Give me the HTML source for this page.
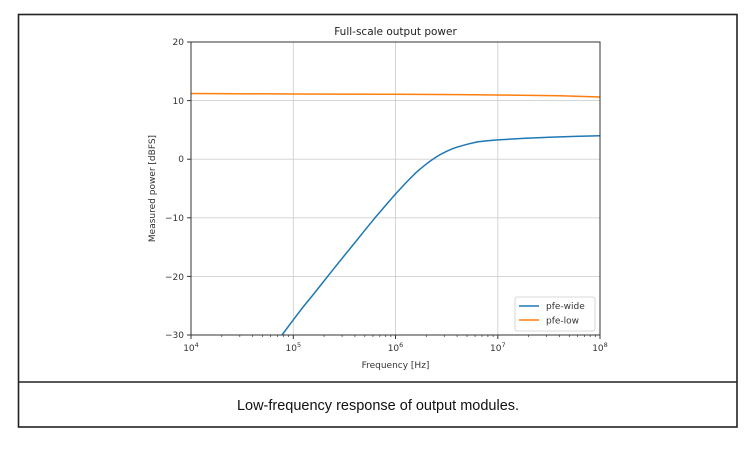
<!DOCTYPE html>
<html><head><meta charset="utf-8"><style>
html,body{margin:0;padding:0;background:#fff;}
</style></head><body>
<svg width="756" height="451" xmlns="http://www.w3.org/2000/svg" font-family="DejaVu Sans, Liberation Sans, sans-serif">
<rect x="0" y="0" width="756" height="451" fill="#fff"/>
<rect x="18.5" y="14.5" width="718.5" height="412.5" fill="none" stroke="#222" stroke-width="1.6"/>
<line x1="18" y1="382" x2="737" y2="382" stroke="#222" stroke-width="1.6"/>
<text x="378" y="410" text-anchor="middle" font-family="Liberation Sans, sans-serif" font-size="14.5" fill="#111">Low-frequency response of output modules.</text>
<!-- grid -->
<g stroke="#d0d0d0" stroke-width="0.9">
<line x1="293.3" y1="42" x2="293.3" y2="335"/>
<line x1="395.5" y1="42" x2="395.5" y2="335"/>
<line x1="497.8" y1="42" x2="497.8" y2="335"/>
<line x1="191" y1="100.6" x2="600" y2="100.6"/>
<line x1="191" y1="159.2" x2="600" y2="159.2"/>
<line x1="191" y1="217.8" x2="600" y2="217.8"/>
<line x1="191" y1="276.4" x2="600" y2="276.4"/>
</g>
<!-- series -->
<polyline fill="none" stroke="#ff7f0e" stroke-width="1.5" stroke-linejoin="round" points="191,93.5 293,94 395,94.3 460,94.6 520,95.2 560,95.8 600,97"/>
<polyline fill="none" stroke="#1f77b4" stroke-width="1.5" stroke-linejoin="round" points="282,335 293.3,319.8 303.5,306.5 313.7,294 324,281 334.2,268.2 344.4,255.5 354.6,243 364.8,230.3 375,217.8 385.3,205.8 395.5,194 405.7,183 415.9,172.7 421,168.3 426.1,164.2 431.2,160.4 436.4,156.9 441.5,153.9 446.6,151.3 451.7,149.1 456.8,147.2 467,144.3 477.3,141.9 487.5,140.8 497.8,139.9 523,138.4 549,137.2 575,136.4 600,135.8"/>
<!-- axes -->
<rect x="191" y="42" width="409" height="293" fill="none" stroke="#333" stroke-width="1"/>
<g stroke="#333" stroke-width="1">
<line x1="191" y1="335" x2="191" y2="339"/><line x1="293.3" y1="335" x2="293.3" y2="339"/><line x1="395.5" y1="335" x2="395.5" y2="339"/><line x1="497.8" y1="335" x2="497.8" y2="339"/><line x1="600" y1="335" x2="600" y2="339"/>
<line x1="187" y1="42" x2="191" y2="42"/><line x1="187" y1="100.6" x2="191" y2="100.6"/><line x1="187" y1="159.2" x2="191" y2="159.2"/><line x1="187" y1="217.8" x2="191" y2="217.8"/><line x1="187" y1="276.4" x2="191" y2="276.4"/><line x1="187" y1="335" x2="191" y2="335"/>
</g>
<g stroke="#333" stroke-width="0.7">
<path d="M221.8 335v2M239.8 335v2M252.6 335v2M262.5 335v2M270.6 335v2M277.5 335v2M283.4 335v2M288.6 335v2
M324.1 335v2M342.1 335v2M354.9 335v2M364.8 335v2M372.9 335v2M379.8 335v2M385.7 335v2M390.9 335v2
M426.3 335v2M444.3 335v2M457.1 335v2M467 335v2M475.1 335v2M482 335v2M487.9 335v2M493.1 335v2
M528.6 335v2M546.6 335v2M559.4 335v2M569.3 335v2M577.4 335v2M584.3 335v2M590.2 335v2M595.4 335v2"/>
</g>
<g font-size="9" fill="#333">
<text x="184" y="45" text-anchor="end">20</text>
<text x="184" y="104" text-anchor="end">10</text>
<text x="184" y="162" text-anchor="end">0</text>
<text x="184" y="221" text-anchor="end">−10</text>
<text x="184" y="280" text-anchor="end">−20</text>
<text x="184" y="338" text-anchor="end">−30</text>
<text x="191" y="351" text-anchor="middle">10<tspan font-size="6.5" dy="-4">4</tspan></text>
<text x="293.3" y="351" text-anchor="middle">10<tspan font-size="6.5" dy="-4">5</tspan></text>
<text x="395.5" y="351" text-anchor="middle">10<tspan font-size="6.5" dy="-4">6</tspan></text>
<text x="497.8" y="351" text-anchor="middle">10<tspan font-size="6.5" dy="-4">7</tspan></text>
<text x="600" y="351" text-anchor="middle">10<tspan font-size="6.5" dy="-4">8</tspan></text>
<text x="395.5" y="368" text-anchor="middle">Frequency [Hz]</text>
<text transform="translate(155,188.5) rotate(-90)" text-anchor="middle">Measured power [dBFS]</text>
</g>
<text x="395.5" y="35" text-anchor="middle" font-size="10.5" fill="#222">Full-scale output power</text>
<!-- legend -->
<rect x="515" y="297" width="80" height="34" rx="2" fill="#fff" stroke="#ccc" stroke-width="0.8"/>
<line x1="519" y1="306" x2="539" y2="306" stroke="#1f77b4" stroke-width="1.5"/>
<line x1="519" y1="320" x2="539" y2="320" stroke="#ff7f0e" stroke-width="1.5"/>
<g font-size="9" fill="#333">
<text x="546" y="309">pfe-wide</text>
<text x="546" y="323.5">pfe-low</text>
</g>
</svg>
</body></html>
